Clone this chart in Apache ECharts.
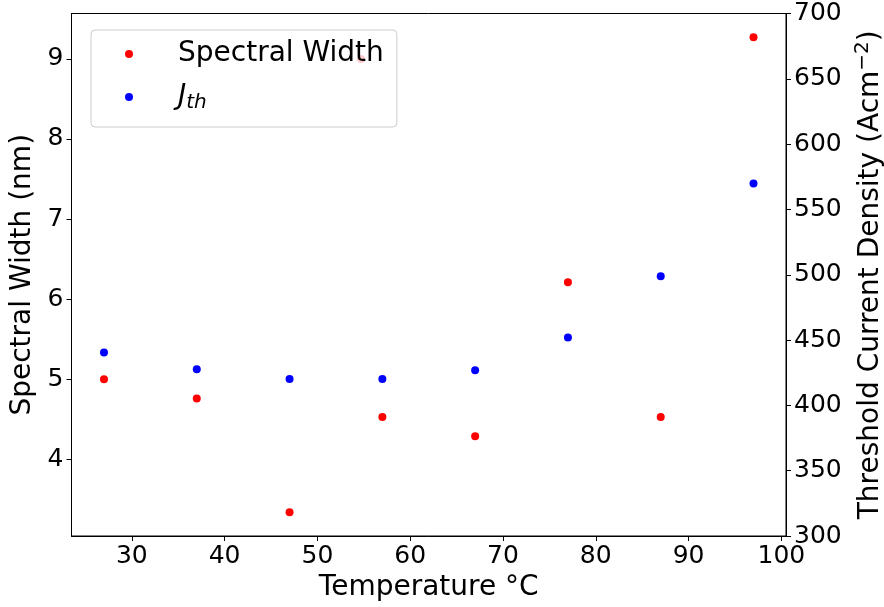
<!DOCTYPE html>
<html><head><meta charset="utf-8">
<script src="https://cdn.jsdelivr.net/npm/echarts@6/dist/echarts.min.js"></script>
<style>html,body{margin:0;padding:0;background:#fff}#c{width:884px;height:607px}</style>
</head><body><div id="c"></div>
<script>
const spectralTemps = [27, 37, 47, 57, 67, 77, 87, 97, 54.7];
const spectralWidth = [5.0, 4.76, 3.34, 4.53, 4.29, 6.21, 4.53, 9.27, 9.0];
const jthTemps = [27, 37, 47, 57, 67, 77, 87, 97];
const jthValues = [440.5, 427.7, 420.1, 420.1, 426.9, 451.9, 498.8, 569.8];
const rightTicks = [300, 350, 400, 450, 500, 550, 600, 650, 700];

const FONT = 'DejaVu Sans';
const TICK = 25, LBL = 28;
const chart = echarts.init(document.getElementById('c'), null, {renderer: 'canvas'});
const axisCommon = {
  axisLine: {show: true, onZero: false, lineStyle: {color: '#000', width: 1}},
  axisTick: {show: true, length: 5, lineStyle: {color: '#000'}},
  splitLine: {show: false},
  axisLabel: {color: '#000', fontFamily: FONT, fontSize: TICK, showMinLabel: false, showMaxLabel: false},
  nameTextStyle: {color: '#000', fontFamily: FONT, fontSize: LBL},
  nameLocation: 'middle'
};
chart.setOption({
  animation: false,
  backgroundColor: '#fff',
  grid: {left: 71.5, right: 98, top: 13.5, bottom: 71, containLabel: false, outerBoundsMode: 'none',
         show: true, borderColor: '#000', borderWidth: 1, backgroundColor: 'transparent'},
  legend: {
    left: 91, top: 30, orient: 'vertical',
    padding: [10, 13, 14, 34], itemGap: 13,
    itemWidth: 8, itemHeight: 8,
    backgroundColor: 'rgba(255,255,255,0.8)', borderColor: '#cccccc', borderWidth: 1, borderRadius: 4,
    data: [{name: 'Spectral Width', icon: 'circle'}, {name: 'Jth', icon: 'circle'}],
    formatter: n => n === 'Jth' ? '{j|J}{s|th}' : '{n|' + n + '}',
    textStyle: {
      color: '#000', fontFamily: FONT, fontSize: LBL, padding: [0, 0, 0, 40],
      rich: {
        n: {fontFamily: FONT, fontSize: LBL, lineHeight: 30, color: '#000'},
        j: {fontFamily: FONT, fontSize: LBL, fontStyle: 'italic', lineHeight: 30, color: '#000'},
        s: {fontFamily: FONT, fontSize: 20, fontStyle: 'italic', lineHeight: 30, color: '#000', padding: [12, 0, 0, 0]}
      }
    }
  },
  xAxis: Object.assign({}, axisCommon, {
    type: 'value', min: 23.5, max: 100.5, splitNumber: 8,
    name: 'Temperature °C', nameGap: 33,
    axisLabel: Object.assign({}, axisCommon.axisLabel, {margin: 8})
  }),
  yAxis: [
    Object.assign({}, axisCommon, {
      type: 'value', min: 3.043, max: 9.567, splitNumber: 6, position: 'left',
      name: 'Spectral Width (nm)', nameGap: 28, nameRotate: 90,
      axisLabel: Object.assign({}, axisCommon.axisLabel, {margin: 8})
    }),
    Object.assign({}, axisCommon, {
      type: 'value', min: rightTicks[0], max: rightTicks[rightTicks.length - 1], interval: 50, position: 'right',
      name: '{a|Threshold Current Density (Acm}{s|−2}{a|)}', nameGap: 60, nameRotate: 90,
      nameTextStyle: {color: '#000', fontFamily: FONT, fontSize: LBL,
        rich: {
          a: {fontFamily: FONT, fontSize: LBL, color: '#000', lineHeight: 32, verticalAlign: 'bottom'},
          s: {fontFamily: FONT, fontSize: 20, color: '#000', lineHeight: 32, verticalAlign: 'top'}
        }},
      axisLabel: Object.assign({}, axisCommon.axisLabel, {margin: 8, showMinLabel: true, showMaxLabel: true})
    })
  ],
  series: [
    {name: 'Spectral Width', type: 'scatter', yAxisIndex: 0, symbol: 'circle', symbolSize: 8,
     itemStyle: {color: '#ff0000', opacity: 1}, data: spectralTemps.map((t, i) => [t, spectralWidth[i]])},
    {name: 'Jth', type: 'scatter', yAxisIndex: 1, symbol: 'circle', symbolSize: 8,
     itemStyle: {color: '#0000ff', opacity: 1}, data: jthTemps.map((t, i) => [t, jthValues[i]])}
  ]
});
</script></body></html>
